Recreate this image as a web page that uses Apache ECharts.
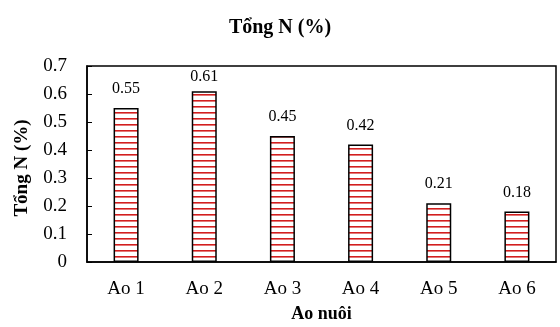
<!DOCTYPE html>
<html><head><meta charset="utf-8">
<script src="https://cdn.jsdelivr.net/npm/echarts@6/dist/echarts.min.js"></script>
<style>html,body{margin:0;padding:0;background:#fff}#c{width:560px;height:327px}</style>
</head><body><div id="c"></div>
<script>
var categories = ['Ao 1','Ao 2','Ao 3','Ao 4','Ao 5','Ao 6'];
var values = [0.55, 0.61, 0.45, 0.42, 0.21, 0.18];
var labels = ['0.55','0.61','0.45','0.42','0.21','0.18'];

var pc = document.createElement('canvas');
pc.width = 4; pc.height = 6;
var ctx = pc.getContext('2d');
ctx.fillStyle = '#ffffff'; ctx.fillRect(0,0,4,6);
ctx.fillStyle = '#d21e1e'; ctx.fillRect(0,4,4,1.6);

var font = 'Liberation Serif';
var barData = values.map(function(v, i){
  var d = {value: v};
  if (i === 1) d.label = {distance: 6};
  return d;
});
var chart = echarts.init(document.getElementById('c'));
chart.setOption({
  animation: false,
  title: {text: 'Tổng N (%)', left: 'center', top: 13,
    textStyle: {fontFamily: font, fontSize: 20, fontWeight: 'bold', color: '#000'}},
  grid: {left: 87, right: 4, top: 66, bottom: 65, containLabel: false, outerBoundsMode: 'none'},
  xAxis: {type: 'category', data: categories,
    name: 'Ao nuôi', nameLocation: 'middle', nameGap: 43,
    nameTextStyle: {fontFamily: font, fontSize: 18, fontWeight: 'bold', color: '#000'},
    axisLine: {lineStyle: {color: '#000', width: 1.5}},
    axisTick: {show: false},
    axisLabel: {fontFamily: font, fontSize: 19, color: '#000', margin: 18}},
  yAxis: {type: 'value', min: 0, max: 0.7, interval: 0.1,
    name: 'Tổng N (%)', nameLocation: 'middle', nameGap: 55, nameRotate: 90,
    nameTextStyle: {fontFamily: font, fontSize: 19, fontWeight: 'bold', color: '#000', padding: [0, 0, 0, -8]},
    axisLine: {show: true, lineStyle: {color: '#000', width: 1.5}},
    axisTick: {show: true, inside: true, length: 5, lineStyle: {color: '#000'}},
    splitLine: {show: false},
    axisLabel: {fontFamily: font, fontSize: 19, color: '#000', margin: 20,
      formatter: function(v){ return String(Math.round(v*10)/10); }}},
  series: [{type: 'bar', data: barData, barWidth: '32%',
    itemStyle: {color: {image: pc, repeat: 'repeat'}, borderColor: '#000', borderWidth: 1.5},
    label: {show: true, position: 'top', distance: 11, fontFamily: font, fontSize: 16, color: '#000',
      formatter: function(p){ return labels[p.dataIndex]; }}}],
  graphic: [{type: 'rect', silent: true,
    shape: {x: 87, y: 66, width: 560-87-4, height: 327-66-65},
    style: {fill: 'none', stroke: '#000', lineWidth: 1.5}}]
});
</script></body></html>
